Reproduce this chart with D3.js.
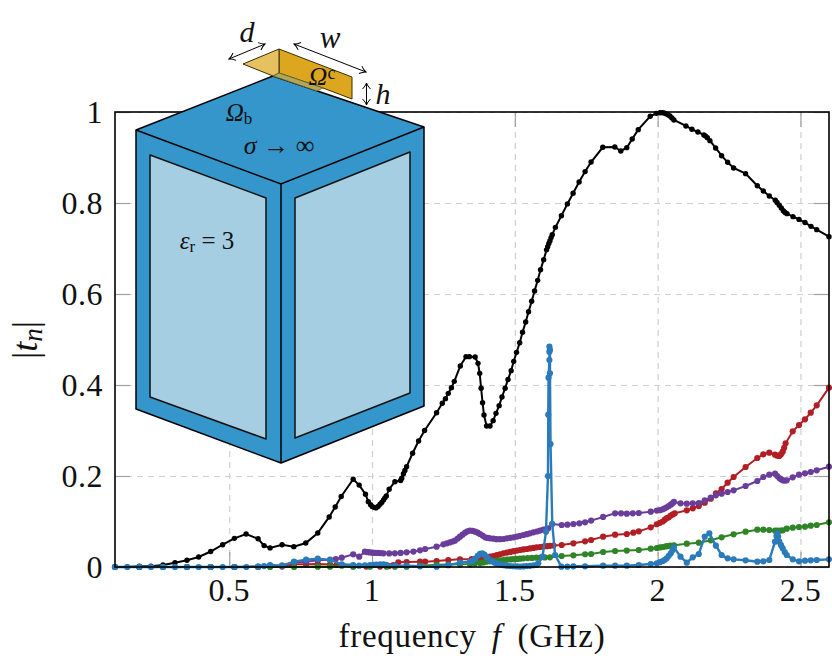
<!DOCTYPE html>
<html>
<head>
<meta charset="utf-8">
<script src="https://cdn.jsdelivr.net/npm/d3@7"></script>
<style>
  html, body { margin: 0; padding: 0; background: #fff; }
  svg { display: block; }
  text { font-family: "Liberation Serif", serif; fill: #111; }
</style>
</head>
<body>
<svg id="chart" width="832" height="667"></svg>
<script>
// [frequency in GHz, |t_n|]
const blackPts = [[.1,0],[.143,0],[.185,.0015],[.226,.0015],[.268,.0044],[.31,.0095],[.352,.0147],[.393,.022],[.435,.034],[.477,.049],[.518,.063],[.559,.0725],[.601,.062],[.622,.047],[.643,.042],[.685,.049],[.726,.0447],[.768,.0527],[.81,.0747],[.85,.11],[.871,.132],[.892,.155],[.934,.193],[.955,.18],[.977,.16],[.987,.1436],[.995,.137],[1.001,.1326],[1.007,.131],[1.014,.13],[1.021,.133],[1.028,.138],[1.034,.142],[1.04,.147],[1.045,.152],[1.05,.156],[1.06,.171],[1.08,.1875],[1.1,.19],[1.104,.195],[1.11,.205],[1.115,.212],[1.121,.2205],[1.142,.25],[1.163,.277],[1.184,.3],[1.226,.339],[1.246,.36],[1.257,.37],[1.267,.3817],[1.278,.394],[1.288,.408],[1.309,.4418],[1.329,.4623],[1.341,.4623],[1.361,.4615],[1.371,.4476],[1.377,.4256],[1.382,.3927],[1.387,.361],[1.392,.334],[1.401,.31],[1.413,.31],[1.424,.3216],[1.434,.3377],[1.445,.3546],[1.455,.3736],[1.466,.393],[1.476,.412],[1.487,.4315],[1.496,.452],[1.506,.4718],[1.517,.493],[1.527,.5158],[1.538,.5385],[1.548,.561],[1.559,.584],[1.569,.6066],[1.58,.63],[1.59,.6535],[1.601,.6755],[1.611,.697],[1.615,.704],[1.619,.711],[1.623,.7172],[1.627,.724],[1.631,.7304],[1.642,.7465],[1.663,.772],[1.684,.798],[1.704,.8213],[1.725,.846],[1.746,.869],[1.767,.89],[1.808,.9224],[1.85,.923],[1.871,.9143],[1.892,.9216],[1.911,.9407],[1.932,.9612],[1.974,.9905],[1.995,.997],[2.008,.9985],[2.016,.9986],[2.022,.998],[2.029,.9964],[2.036,.994],[2.043,.9912],[2.05,.987],[2.057,.9824],[2.099,.9693],[2.12,.962],[2.141,.956],[2.162,.9495],[2.168,.947],[2.174,.9436],[2.183,.937],[2.203,.921],[2.224,.904],[2.245,.8894],[2.266,.877],[2.308,.8645],[2.349,.838],[2.37,.8264],[2.391,.8154],[2.412,.806],[2.418,.801],[2.426,.795],[2.433,.789],[2.44,.783],[2.446,.779],[2.453,.7766],[2.474,.77],[2.495,.764],[2.516,.757],[2.537,.7487],[2.557,.7414],[2.6,.726]];

const redPts = [[.1,0],[.185,0],[.268,0],[.352,0],[.435,0],[.518,0],[.601,0],[.685,.001],[.727,.0059],[.769,.006],[.81,.0066],[.853,.0055],[.876,.0044],[.934,.0015],[.98,.001],[1.028,.001],[1.06,.002],[1.075,.0044],[1.092,.0103],[1.121,.011],[1.168,.0117],[1.186,.0118],[1.226,.0132],[1.267,.0154],[1.308,.0169],[1.349,.0172],[1.37,.0182],[1.384,.0191],[1.4,.021],[1.413,.0227],[1.425,.024],[1.437,.026],[1.448,.028],[1.46,.03],[1.472,.0316],[1.484,.0332],[1.495,.0348],[1.507,.036],[1.518,.0374],[1.53,.0386],[1.542,.0396],[1.553,.0408],[1.565,.042],[1.576,.0432],[1.588,.044],[1.6,.0448],[1.612,.0458],[1.623,.0465],[1.635,.0472],[1.664,.0484],[1.705,.052],[1.746,.0564],[1.767,.0593],[1.809,.0667],[1.851,.071],[1.892,.0725],[1.915,.0755],[1.934,.0784],[1.976,.0872],[1.997,.094],[2.008,.097],[2.018,.1],[2.025,.104],[2.032,.1075],[2.039,.1092],[2.046,.113],[2.053,.1155],[2.06,.118],[2.102,.1245],[2.123,.129],[2.144,.134],[2.165,.1414],[2.186,.15],[2.204,.162],[2.224,.1714],[2.245,.1853],[2.266,.1978],[2.308,.2198],[2.349,.2396],[2.37,.2476],[2.391,.2513],[2.411,.2469],[2.419,.2445],[2.426,.244],[2.432,.248],[2.438,.2535],[2.443,.262],[2.448,.2718],[2.473,.2982],[2.495,.312],[2.516,.3245],[2.536,.3392],[2.557,.3553],[2.6,.3941]];

const purplePts = [[.1,0],[.185,0],[.268,0],[.352,0],[.435,0],[.518,0],[.601,.001],[.643,.003],[.685,.003],[.727,.0103],[.769,.0117],[.81,.0147],[.853,.0161],[.873,.0176],[.894,.0205],[.934,.0278],[.955,.0227],[.975,.0337],[.985,.0325],[.993,.032],[1.002,.0315],[1.01,.0312],[1.02,.031],[1.03,.0305],[1.04,.03],[1.06,.0298],[1.08,.03],[1.1,.031],[1.121,.0322],[1.145,.034],[1.168,.0366],[1.186,.0396],[1.226,.0447],[1.25,.0498],[1.262,.052],[1.273,.0542],[1.282,.056],[1.29,.0579],[1.3,.0625],[1.308,.0667],[1.317,.071],[1.326,.0755],[1.334,.0785],[1.343,.08],[1.352,.0795],[1.361,.0777],[1.37,.0755],[1.378,.0725],[1.387,.069],[1.396,.0652],[1.405,.0638],[1.413,.063],[1.425,.0622],[1.436,.0612],[1.448,.0612],[1.46,.0615],[1.472,.063],[1.484,.0642],[1.495,.0652],[1.507,.0668],[1.518,.0685],[1.53,.0703],[1.542,.0722],[1.553,.074],[1.565,.0762],[1.577,.078],[1.588,.08],[1.6,.082],[1.611,.0835],[1.617,.085],[1.631,.0945],[1.664,.0923],[1.684,.093],[1.705,.0945],[1.726,.096],[1.746,.0982],[1.767,.102],[1.809,.11],[1.851,.118],[1.872,.118],[1.892,.1172],[1.913,.118],[1.934,.1187],[1.976,.1216],[1.997,.124],[2.008,.125],[2.018,.1267],[2.025,.129],[2.032,.1311],[2.039,.134],[2.046,.137],[2.052,.14],[2.057,.143],[2.08,.14],[2.102,.1392],[2.123,.14],[2.144,.1407],[2.165,.1465],[2.186,.1524],[2.204,.1575],[2.224,.1612],[2.245,.1648],[2.266,.1685],[2.308,.178],[2.349,.189],[2.37,.1978],[2.391,.2029],[2.411,.2051],[2.419,.2],[2.426,.1956],[2.432,.193],[2.438,.1905],[2.445,.19],[2.452,.1905],[2.473,.1971],[2.495,.2029],[2.516,.2059],[2.536,.2088],[2.557,.2125],[2.6,.2205]];

const greenPts = [[.1,0],[.185,0],[.268,0],[.352,0],[.435,0],[.518,0],[.601,0],[.643,0],[.727,0],[.81,.0007],[.853,.0007],[.894,.003],[.934,.0007],[.993,.0007],[1.051,.0007],[1.08,.0005],[1.121,.0007],[1.168,.003],[1.226,.005],[1.267,.0055],[1.308,.0058],[1.343,.0066],[1.36,.0075],[1.378,.0088],[1.39,.01],[1.4,.0117],[1.412,.0124],[1.424,.0132],[1.436,.0138],[1.448,.0146],[1.46,.0154],[1.472,.016],[1.484,.0166],[1.495,.0172],[1.507,.0178],[1.518,.0184],[1.53,.019],[1.545,.0196],[1.56,.02],[1.575,.0204],[1.59,.0207],[1.605,.021],[1.623,.0213],[1.664,.0242],[1.705,.0257],[1.746,.028],[1.767,.0286],[1.809,.033],[1.851,.0352],[1.892,.036],[1.934,.0374],[1.976,.0403],[1.997,.0418],[2.008,.043],[2.018,.044],[2.028,.0452],[2.036,.046],[2.044,.0469],[2.057,.0476],[2.102,.0513],[2.144,.0535],[2.186,.0586],[2.224,.0652],[2.266,.0718],[2.308,.0777],[2.349,.082],[2.37,.082],[2.391,.0813],[2.411,.0799],[2.42,.0798],[2.43,.0802],[2.438,.0806],[2.452,.0843],[2.473,.0864],[2.495,.0879],[2.516,.0886],[2.536,.0908],[2.557,.0923],[2.6,.0982]];

const bluePts = [[.1,0],[.143,0],[.185,0],[.226,0],[.268,0],[.31,0],[.352,0],[.393,0],[.435,0],[.477,0],[.518,0],[.56,0],[.601,.001],[.622,.002],[.643,.0044],[.685,.003],[.727,.0117],[.769,.0161],[.81,.0183],[.853,.0154],[.894,.0059],[.934,.0044],[.955,.003],[.975,.0038],[.993,.0044],[1.005,.005],[1.015,.0055],[1.028,.0058],[1.04,.0059],[1.05,.005],[1.08,.003],[1.121,.003],[1.168,.0015],[1.226,.0008],[1.267,.004],[1.308,.0095],[1.343,.0117],[1.352,.0135],[1.361,.0184],[1.37,.0245],[1.378,.0288],[1.386,.03],[1.393,.0272],[1.4,.0228],[1.407,.0185],[1.413,.0154],[1.42,.0128],[1.428,.0098],[1.436,.0078],[1.442,.0066],[1.452,.0052],[1.462,.004],[1.472,.003],[1.483,.0022],[1.495,.0016],[1.507,.0012],[1.518,.001],[1.53,.0012],[1.541,.0022],[1.553,.0026],[1.565,.0038],[1.576,.0044],[1.582,.0081],[1.597,.0227],[1.609,.0777],[1.616,.2],[1.617,.3348],[1.618,.4161],[1.621,.455],[1.621,.4733],[1.621,.4843],[1.623,.477],[1.623,.4256],[1.625,.2703],[1.631,.0945],[1.641,.0264],[1.663,.0007],[1.684,.0007],[1.705,.0015],[1.746,.0015],[1.809,.003],[1.851,.003],[1.892,.003],[1.934,.0044],[1.976,.0066],[1.997,.0081],[2.008,.0105],[2.018,.0132],[2.025,.0158],[2.032,.019],[2.039,.0245],[2.046,.03],[2.052,.037],[2.057,.0432],[2.08,.0227],[2.102,.0095],[2.123,.0213],[2.144,.0286],[2.165,.0667],[2.181,.074],[2.204,.0469],[2.224,.0264],[2.245,.019],[2.266,.0168],[2.308,.0147],[2.349,.0117],[2.37,.0125],[2.391,.0154],[2.411,.0557],[2.416,.068],[2.419,.074],[2.422,.067],[2.426,.0557],[2.432,.048],[2.438,.041],[2.445,.033],[2.452,.0264],[2.473,.0168],[2.495,.0125],[2.516,.0139],[2.536,.0147],[2.557,.0154],[2.6,.0168]];

const xTickVals = [0.5, 1, 1.5, 2, 2.5];
const yTickVals = [0, 0.2, 0.4, 0.6, 0.8, 1];

const margin = { left: 115, right: 3, top: 112, bottom: 100 };
const width = 832 - margin.left - margin.right;
const height = 667 - margin.top - margin.bottom;

const svg = d3.select('#chart');
const x = d3.scaleLinear().domain([0.1, 2.6]).range([margin.left, margin.left + width]);
const y = d3.scaleLinear().domain([0, 1]).range([margin.top + height, margin.top]);

// Grid
const gridX = d3.axisBottom(x).tickValues(xTickVals).tickSize(-height).tickFormat('');
const gridY = d3.axisLeft(y).tickValues(yTickVals).tickSize(-width).tickFormat('');
svg.append('g').attr('class', 'grid').attr('transform', `translate(0,${margin.top + height})`).call(gridX);
svg.append('g').attr('class', 'grid').attr('transform', `translate(${margin.left},0)`).call(gridY);
svg.selectAll('.grid .domain').remove();
svg.selectAll('.grid line').attr('stroke', '#cfcfcf').attr('stroke-width', 1.2).attr('stroke-dasharray', '6 5');

// Inner ticks on all four sides
const tickLen = 15;
const axes = [
    [d3.axisBottom(x).tickValues(xTickVals).tickSize(-tickLen).tickFormat(''), 0, margin.top + height],
    [d3.axisTop(x).tickValues(xTickVals).tickSize(-tickLen).tickFormat(''), 0, margin.top],
    [d3.axisLeft(y).tickValues(yTickVals).tickSize(-tickLen).tickFormat(''), margin.left, 0],
    [d3.axisRight(y).tickValues(yTickVals).tickSize(-tickLen).tickFormat(''), margin.left + width, 0]
];
axes.forEach(([axis, tx, ty]) => {
    const g = svg.append('g').attr('class', 'frame-ticks').attr('transform', `translate(${tx},${ty})`).call(axis);
    g.select('.domain').remove();
    g.selectAll('line').attr('stroke', '#a0a0a0').attr('stroke-width', 1.2);
});

// Tick labels
svg.selectAll('.xlab').data(xTickVals).enter().append('text')
    .attr('x', d => x(d)).attr('y', 601)
    .attr('text-anchor', 'middle').attr('font-size', 32).attr('letter-spacing', 0.5)
    .text(d => d);
svg.selectAll('.ylab').data(yTickVals).enter().append('text')
    .attr('x', 103).attr('y', d => y(d) + 10.5)
    .attr('text-anchor', 'end').attr('font-size', 32).attr('letter-spacing', 0.5)
    .text(d => d);

// Axis titles
const xTitle = svg.append('text').attr('x', 472).attr('y', 647).attr('text-anchor', 'middle')
    .attr('font-size', 33).attr('letter-spacing', 0.7);
xTitle.append('tspan').text('frequency ');
xTitle.append('tspan').attr('font-style', 'italic').attr('dx', 6).text('f');
xTitle.append('tspan').attr('dx', 7).text(' (GHz)');

const yTitle = svg.append('text').attr('transform', 'translate(37,340) rotate(-90)').attr('text-anchor', 'middle').attr('font-size', 36);
yTitle.append('tspan').text('|');
yTitle.append('tspan').attr('font-style', 'italic').text('t');
yTitle.append('tspan').attr('font-style', 'italic').attr('font-size', 27).attr('dy', 5).text('n');
yTitle.append('tspan').attr('dy', -5).text('|');

// Series
const line = d3.line().x(d => x(d[0])).y(d => y(d[1]));
const series = [
    { pts: blackPts, color: '#000000', lw: 2, r: 2.7 },
    { pts: redPts, color: '#b11f24', lw: 2, r: 3.1 },
    { pts: purplePts, color: '#6a3d9a', lw: 2, r: 3.1 },
    { pts: greenPts, color: '#2f8427', lw: 2, r: 3.1 },
    { pts: bluePts, color: '#2b7bba', lw: 2.4, r: 3.1 }
];
series.forEach(s => {
    const g = svg.append('g');
    g.append('path').attr('d', line(s.pts)).attr('fill', 'none').attr('stroke', s.color).attr('stroke-width', s.lw);
    g.selectAll('circle').data(s.pts).enter().append('circle')
        .attr('cx', d => x(d[0])).attr('cy', d => y(d[1])).attr('r', s.r).attr('fill', s.color);
});

// Frame
svg.append('rect')
    .attr('x', margin.left).attr('y', margin.top).attr('width', width).attr('height', height)
    .attr('fill', 'none').attr('stroke', '#000').attr('stroke-width', 1.6);

// Inset sketch of the unit cell
const inset = svg.append('g');
const poly = (pts, fill, stroke, sw) => inset.append('polygon')
    .attr('points', pts.map(p => p.join(',')).join(' '))
    .attr('fill', fill).attr('stroke', stroke || 'none').attr('stroke-width', sw || 0)
    .attr('stroke-linejoin', 'round');

const blue = '#3496cb', pale = '#a6cee3';
poly([[279,49],[352,77],[352,99],[323,88],[279,73]], '#dca61f', '#3a2c05', 1);
poly([[136,130],[273,76],[424,127],[424,406],[281,463],[136,409]], blue, '#000', 1.5);
poly([[150,155],[266,198],[266,439],[150,397]], pale, '#111', 1.5);
poly([[295,198],[410,152],[410,393],[295,438]], pale, '#111', 1.5);
inset.append('path').attr('d', 'M136,130 L281,184 L424,127 M281,184 L281,463')
    .attr('fill', 'none').attr('stroke', '#000').attr('stroke-width', 1.5);

poly([[243,64],[279,49],[279,73],[273,76]], '#e5c160', '#3a2c05', 1);
poly([[279,73],[323,88],[317,91],[273,76]], '#b2a757', '#6b6433', 0.8);

// Dimension arrows
const defs = svg.append('defs');
defs.append('marker').attr('id', 'tip').attr('viewBox', '-6 -5 8 10').attr('refX', 1).attr('refY', 0)
    .attr('markerWidth', 8).attr('markerHeight', 10).attr('markerUnits', 'userSpaceOnUse').attr('orient', 'auto-start-reverse')
    .append('path').attr('d', 'M-5,-4 Q-2,-1 1,0 Q-2,1 -5,4').attr('fill', 'none').attr('stroke', '#000').attr('stroke-width', 1);
[[229,59,265,44],[294,44,366,72],[366.5,83,366.5,105]].forEach(a => {
    inset.append('line').attr('x1', a[0]).attr('y1', a[1]).attr('x2', a[2]).attr('y2', a[3])
        .attr('stroke', '#000').attr('stroke-width', 1)
        .attr('marker-start', 'url(#tip)').attr('marker-end', 'url(#tip)');
});

// Inset labels
const label = (px, py, size, parts) => {
    const t = inset.append('text').attr('x', px).attr('y', py).attr('text-anchor', 'middle').attr('font-size', size);
    parts.forEach(p => {
        const s = t.append('tspan').text(p.t);
        if (p.i) s.attr('font-style', 'italic');
        if (p.fs) s.attr('font-size', p.fs);
        if (p.dy) s.attr('dy', p.dy);
    });
};
label(247, 42, 30, [{ t: 'd', i: true }]);
label(330, 48, 31, [{ t: 'w', i: true }]);
label(383, 104, 30, [{ t: 'h', i: true }]);
label(322, 85, 26, [{ t: 'Ω', i: true }, { t: 'c', fs: 18, dy: -6 }]);
label(239, 121, 25, [{ t: 'Ω', i: true }, { t: 'b', fs: 17, dy: 3 }]);
label(279, 154, 26, [{ t: 'σ', i: true }, { t: ' → ∞' }]);
label(207, 249, 25, [{ t: 'ε', i: true }, { t: 'r', fs: 17, dy: 3 }, { t: ' = 3', dy: -3 }]);
</script>
</body>
</html>
